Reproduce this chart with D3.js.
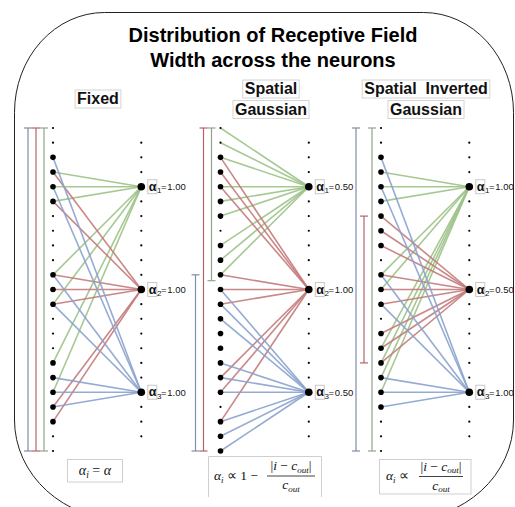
<!DOCTYPE html>
<html>
<head>
<meta charset="utf-8">
<script src="https://cdn.jsdelivr.net/npm/d3@7"></script>
<style>
  body { margin: 0; background: #fff; }
  svg { display: block; }
</style>
</head>
<body>
<svg id="chart" width="515" height="507"></svg>
<script>
// ---- data ----
const titleLines = ["Distribution of Receptive Field", "Width across the neurons"];
const panelTitles = [["Fixed"], ["Spatial", "Gaussian"], ["Spatial  Inverted", "Gaussian"]];
const outputNames = ["1", "2", "3"];
const inputIndex = d3.range(23);           // input neurons, top to bottom
const outputColumn = d3.range(1, 22);      // output grid positions
const outputPositions = [4, 11, 18];       // grid rows of the three output neurons

const alphaFixed = [1.00, 1.00, 1.00];
const alphaSpatial = [0.50, 1.00, 0.50];
const alphaInverted = [1.00, 0.50, 1.00];

// inputs drawn as large dots
const activeFixed = [2, 3, 4, 5, 10, 11, 12, 16, 17, 18, 19, 20];
const activeSpatial = [2, 3, 4, 5, 6, 8, 9, 10, 11, 12, 13, 14, 15, 16, 17, 18, 20, 21, 22];
const activeInverted = [2, 3, 4, 5, 6, 7, 8, 10, 11, 12, 14, 15, 16, 17, 18, 19];

// inputs wired to each output neuron (α1, α2, α3)
const linksFixed = [[3, 4, 5, 10, 12, 16, 18], [3, 5, 10, 11, 12, 19, 20], [2, 4, 10, 12, 17, 18, 19]];
const linksSpatial = [[0, 1, 2, 4, 5, 6, 8, 9, 10], [2, 3, 4, 10, 11, 12, 17, 18, 20], [11, 12, 13, 16, 17, 18, 20, 21, 22]];
const linksInverted = [[3, 4, 5, 10, 11, 15, 16, 17, 18], [6, 7, 8, 10, 11, 12, 14, 15, 16], [2, 4, 10, 12, 17, 18, 19]];

// receptive field extent of each output, in input rows
const spansFixed = [[0, 22], [0, 22], [0, 22]];
const spansSpatial = [[0, 10.4], [0, 22], [10, 22]];
const spansInverted = [[0, 22], [6, 16], [0, 22]];

const panels = [
  { alpha: alphaFixed, active: activeFixed, links: linksFixed, spans: spansFixed },
  { alpha: alphaSpatial, active: activeSpatial, links: linksSpatial, spans: spansSpatial },
  { alpha: alphaInverted, active: activeInverted, links: linksInverted, spans: spansInverted }
];

// ---- layout ----
const svg = d3.select("#chart");
const font = "'Liberation Sans', Arial, Helvetica, sans-serif";
const serif = "'Liberation Serif', 'Times New Roman', serif";
const lineColors = ["#9cc287", "#c47a7a", "#8ba2cd"];
const bracketColors = ["#8fa48a", "#b4636a", "#7f8dab"];

const y = d3.scaleLinear().domain([0, 22]).range([128, 451]);
const panelLeft = [53, 220.5, 381];
const layerGap = 88.3;
const bracketOffset = [-9, -17, -25];   // α1, α2, α3 bars left of the inputs

// outer frame
svg.append("path")
  .attr("d", "M14.5,112.5 A90,100 0 0 1 104.5,12.5 L423.5,12.5 A90,100 0 0 1 513.5,112.5 " +
             "L513.5,420 A110,100 0 0 1 403.5,520 L124.5,520 A110,100 0 0 1 14.5,420 Z")
  .attr("fill", "none").attr("stroke", "#222").attr("stroke-width", 1);

// main title
svg.append("g").selectAll("text").data(titleLines).join("text")
  .attr("x", 273).attr("y", (d, i) => 42 + i * 24.5)
  .attr("text-anchor", "middle")
  .attr("font-family", font).attr("font-weight", "bold").attr("font-size", 20)
  .attr("fill", "#000").text(d => d);

const panelCenters = [98, 271, 426];

panels.forEach((p, pi) => {
  const x = d3.scaleLinear().domain([0, 1]).range([panelLeft[pi], panelLeft[pi] + layerGap]);
  const g = svg.append("g");

  // panel heading with thin boxes round each line
  const lines = panelTitles[pi];
  const top = lines.length === 1 ? 104 : 94;
  lines.forEach((t, li) => {
    const tx = g.append("text")
      .attr("x", panelCenters[pi]).attr("y", top + li * 20.5)
      .attr("text-anchor", "middle")
      .attr("font-family", font).attr("font-weight", "bold").attr("font-size", 16)
      .attr("fill", "#111").attr("xml:space", "preserve").text(t);
    const bb = tx.node().getBBox();
    g.insert("rect", "text")
      .attr("x", bb.x - 2).attr("y", bb.y).attr("width", bb.width + 4).attr("height", bb.height + 1)
      .attr("fill", "none").attr("stroke", "#d4d4d4").attr("stroke-width", 1);
  });

  // receptive-field bars
  p.spans.forEach((s, si) => {
    const bx = x(0) + bracketOffset[si];
    const bg = g.append("g").attr("stroke", bracketColors[si]).attr("stroke-width", 1.2).attr("fill", "none");
    bg.append("line").attr("x1", bx).attr("x2", bx).attr("y1", y(s[0])).attr("y2", y(s[1]));
    bg.append("line").attr("x1", bx - 4).attr("x2", bx + 4).attr("y1", y(s[0])).attr("y2", y(s[0]));
    bg.append("line").attr("x1", bx - 4).attr("x2", bx + 4).attr("y1", y(s[1])).attr("y2", y(s[1]));
  });

  // connections
  p.links.forEach((set, oi) => {
    g.append("g").selectAll("line").data(set).join("line")
      .attr("x1", x(0)).attr("y1", d => y(d))
      .attr("x2", x(1)).attr("y2", y(outputPositions[oi]))
      .attr("stroke", lineColors[oi]).attr("stroke-width", 1.6).attr("stroke-opacity", 0.9);
  });

  // input neurons
  g.append("g").selectAll("circle").data(inputIndex).join("circle")
    .attr("cx", x(0)).attr("cy", d => y(d))
    .attr("r", d => p.active.includes(d) ? 2.8 : 1.1)
    .attr("fill", "#000");

  // output neurons
  g.append("g").selectAll("circle").data(outputColumn).join("circle")
    .attr("cx", x(1)).attr("cy", d => y(d))
    .attr("r", d => outputPositions.includes(d) ? 3.8 : 1.1)
    .attr("fill", "#000");

  // α labels
  outputPositions.forEach((op, oi) => {
    const rx = x(1), ly = y(op);
    g.append("rect").attr("x", rx + 6.5).attr("y", ly - 7).attr("width", 9).attr("height", 14)
      .attr("fill", "none").attr("stroke", "#c8c8c8").attr("stroke-width", 1);
    g.append("text").attr("x", rx + 7.5).attr("y", ly + 4)
      .attr("font-family", font).attr("font-weight", "bold").attr("font-size", 12.5)
      .attr("fill", "#111").text("α");
    g.append("text").attr("x", rx + 15.8).attr("y", ly + 6.5)
      .attr("font-family", font).attr("font-size", 8).attr("fill", "#111").text(outputNames[oi]);
    g.append("text").attr("x", rx + 19.8).attr("y", ly + 3.5)
      .attr("font-family", font).attr("font-size", 9.5).attr("fill", "#111").text("=");
    g.append("text").attr("x", rx + 26).attr("y", ly + 3.5)
      .attr("font-family", font).attr("font-size", 9.5).attr("fill", "#111")
      .text(p.alpha[oi].toFixed(2));
  });
});

// ---- formula boxes ----
const fg = svg.append("g").attr("font-family", serif).attr("font-style", "italic").attr("fill", "#111");
const boxStroke = "#cfcfcf";

// fixed
fg.append("rect").attr("x", 67.5).attr("y", 459.5).attr("width", 55).attr("height", 22.5)
  .attr("fill", "none").attr("stroke", boxStroke);
{
  const t = fg.append("text").attr("x", 95).attr("y", 475).attr("text-anchor", "middle").attr("font-size", 14);
  t.append("tspan").text("α");
  t.append("tspan").attr("dy", 3).attr("font-size", 9.5).text("i");
  t.append("tspan").attr("dy", -3).attr("font-style", "normal").text(" = ");
  t.append("tspan").text("α");
}

function fraction(cx, barY, half) {
  const num = fg.append("text").attr("x", cx).attr("y", barY - 6).attr("text-anchor", "middle").attr("font-size", 13.5);
  num.append("tspan").attr("font-style", "normal").text("|");
  num.append("tspan").text("i");
  num.append("tspan").attr("font-style", "normal").text(" − ");
  num.append("tspan").text("c");
  num.append("tspan").attr("dy", 2.5).attr("font-size", 9).text("out");
  num.append("tspan").attr("dy", -2.5).attr("font-style", "normal").text("|");
  fg.append("line").attr("x1", cx - half).attr("x2", cx + half).attr("y1", barY).attr("y2", barY)
    .attr("stroke", "#111").attr("stroke-width", 0.8);
  const den = fg.append("text").attr("x", cx).attr("y", barY + 13).attr("text-anchor", "middle").attr("font-size", 13.5);
  den.append("tspan").text("c");
  den.append("tspan").attr("dy", 2.5).attr("font-size", 9).text("out");
}

// spatial gaussian
fg.append("path").attr("d", "M208.5,497 V456.5 H321.5 V497").attr("fill", "none").attr("stroke", boxStroke);
{
  const t = fg.append("text").attr("x", 214).attr("y", 480).attr("font-size", 13.5);
  t.append("tspan").text("α");
  t.append("tspan").attr("dy", 3).attr("font-size", 9).text("i");
  t.append("tspan").attr("dy", -3).attr("font-style", "normal").text(" ∝ 1 − ");
  fraction(291, 476, 24);
}

// spatial inverted gaussian
fg.append("rect").attr("x", 379.5).attr("y", 459.5).attr("width", 91.5).attr("height", 34.5)
  .attr("fill", "none").attr("stroke", boxStroke);
{
  const t = fg.append("text").attr("x", 386).attr("y", 480).attr("font-size", 13.5);
  t.append("tspan").text("α");
  t.append("tspan").attr("dy", 3).attr("font-size", 9).text("i");
  t.append("tspan").attr("dy", -3).attr("font-style", "normal").text(" ∝");
  fraction(441, 476.5, 22);
}
</script>
</body>
</html>
